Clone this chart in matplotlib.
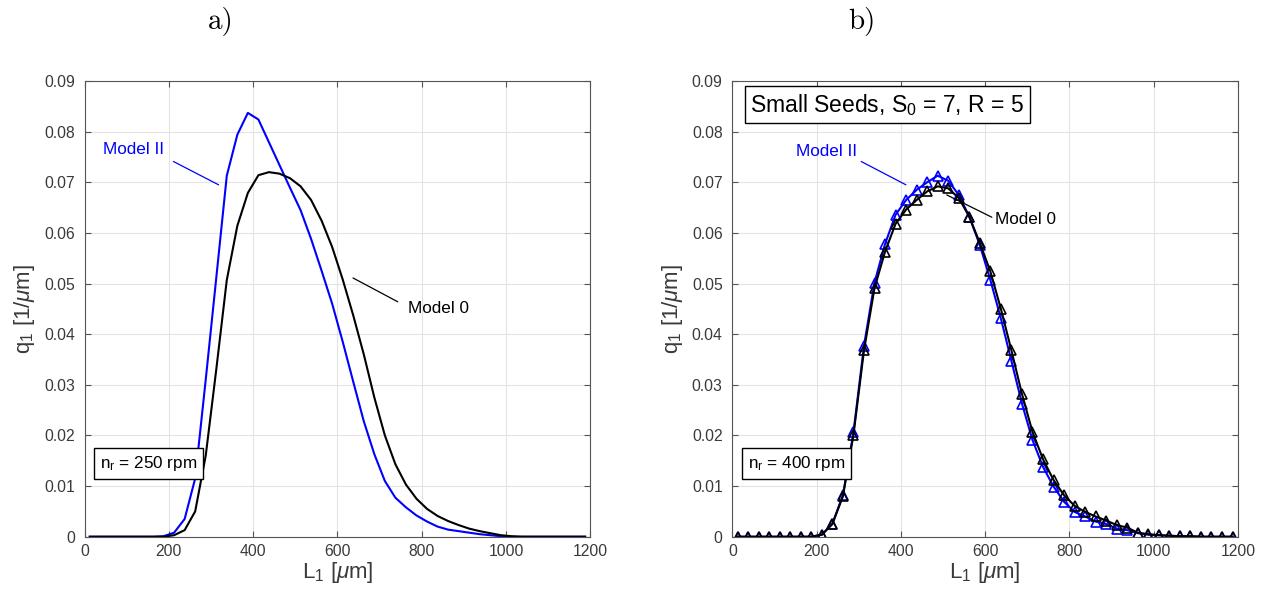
import matplotlib
matplotlib.use("Agg")
import matplotlib.pyplot as plt

plt.rcParams.update({
    "font.family": "Liberation Sans",
    "mathtext.fontset": "custom",
    "mathtext.rm": "Liberation Sans",
    "mathtext.it": "Liberation Sans:italic",
    "mathtext.bf": "Liberation Sans:bold",
})

# crystal size classes (bin centres, um)
size_classes = [12.5, 37.5, 62.5, 87.5, 112.5, 137.5, 162.5, 187.5,
                212.5, 237.5, 262.5, 287.5, 312.5, 337.5, 362.5, 387.5,
                412.5, 437.5, 462.5, 487.5, 512.5, 537.5, 562.5, 587.5,
                612.5, 637.5, 662.5, 687.5, 712.5, 737.5, 762.5, 787.5,
                812.5, 837.5, 862.5, 887.5, 912.5, 937.5, 962.5, 987.5,
                1012.5, 1037.5, 1062.5, 1087.5, 1112.5, 1137.5, 1162.5, 1187.5]

# a) n_r = 250 rpm
q1_250_model0 = [0, 0, 0, 0, 0, 0, 0, 0,
                 0.0003, 0.0013, 0.0050, 0.0160, 0.0330, 0.0507, 0.0614, 0.0679,
                 0.0714, 0.0720, 0.0717, 0.0708, 0.0692, 0.0665, 0.0624, 0.0572,
                 0.0508, 0.0437, 0.0360, 0.0275, 0.0200, 0.0143, 0.0103, 0.0075,
                 0.0055, 0.0041, 0.0031, 0.0023, 0.0016, 0.0011, 0.0007, 0.0003,
                 0.0001, 0, 0, 0, 0, 0, 0, 0]
q1_250_model2 = [0, 0, 0, 0, 0, 0, 0, 0.0001,
                 0.0008, 0.0035, 0.0115, 0.0310, 0.0511, 0.0713, 0.0794, 0.0837,
                 0.0824, 0.0779, 0.0734, 0.0689, 0.0645, 0.0588, 0.0525, 0.0460,
                 0.0385, 0.0306, 0.0228, 0.0163, 0.0110, 0.0077, 0.0058, 0.0042,
                 0.0030, 0.0020, 0.0014, 0.0011, 0.0008, 0.0005, 0.0003, 0.0001,
                 0, 0, 0, 0, 0, 0, 0, 0]

# b) n_r = 400 rpm, small seeds
q1_400_model0 = [0, 0, 0, 0, 0, 0, 0, 0,
                 0.0004, 0.0025, 0.0080, 0.0201, 0.0368, 0.0491, 0.0563, 0.0618,
                 0.0646, 0.0665, 0.0682, 0.0692, 0.0688, 0.0669, 0.0632, 0.0580,
                 0.0524, 0.0450, 0.0368, 0.0282, 0.0207, 0.0153, 0.0112, 0.0082,
                 0.0061, 0.0049, 0.0040, 0.0032, 0.0023, 0.0018, 0.0008, 0.0005,
                 0.0003, 0.0002, 0.0001, 0.0001, 0, 0, 0, 0]
q1_400_model2 = [0, 0, 0, 0, 0, 0, 0, 0,
                 0.0004, 0.0026, 0.0082, 0.0206, 0.0377, 0.0502, 0.0578, 0.0636,
                 0.0665, 0.0685, 0.0700, 0.0713, 0.0703, 0.0675, 0.0632, 0.0576,
                 0.0507, 0.0431, 0.0347, 0.0263, 0.0191, 0.0138, 0.0099, 0.0069,
                 0.0049, 0.0040, 0.0030, 0.0025, 0.0016, 0.0013, 0.0007, 0.0004,
                 0.0003, 0.0002, 0.0001, 0.0001, 0, 0, 0, 0]

x_ticks = [0, 200, 400, 600, 800, 1000, 1200]
y_ticks = [0, 0.01, 0.02, 0.03, 0.04, 0.05, 0.06, 0.07, 0.08, 0.09]
y_tick_labels = ["0", "0.01", "0.02", "0.03", "0.04", "0.05", "0.06", "0.07", "0.08", "0.09"]

BLUE = "#0000ff"


def style_axes(ax):
    ax.set_xlim(0, 1200)
    ax.set_ylim(0, 0.09)
    ax.set_xticks(x_ticks)
    ax.set_yticks(y_ticks)
    ax.set_yticklabels(y_tick_labels)
    ax.grid(True, color="#e3e3e3", lw=0.8)
    ax.set_axisbelow(True)
    ax.tick_params(direction="in", length=4, width=0.8, colors="#555555",
                   labelcolor="#3a3a3a", labelsize=11.3, top=True, right=True)
    ax.tick_params(axis="y", pad=7)
    ax.tick_params(axis="x", pad=5)
    for sp in ax.spines.values():
        sp.set_color("#555555")
        sp.set_linewidth(0.8)
    ax.set_xlabel(r"L$_1$ [$\mu$m]", fontsize=16, color="#3a3a3a", labelpad=1)
    ax.set_ylabel(r"q$_1$ [1/$\mu$m]", fontsize=16, color="#3a3a3a", labelpad=5)


def info_box(ax, x, y, s, size):
    ax.text(x, y, s, fontsize=size, ha="left", va="center", zorder=5,
            bbox=dict(boxstyle="square,pad=0.35", fc="white", ec="black", lw=1))


fig = plt.figure(figsize=(12.71, 5.90), dpi=100)
ax1 = fig.add_axes([0.0665, 0.0903, 0.398, 0.7724])
ax2 = fig.add_axes([0.5762, 0.0903, 0.3977, 0.7724])

# panel a
ax1.plot(size_classes, q1_250_model2, color=BLUE, lw=1.5)
ax1.plot(size_classes, q1_250_model0, color="black", lw=1.5)
style_axes(ax1)
ax1.text(45, 0.0764, "Model II", color=BLUE, fontsize=12.3, va="center")
ax1.annotate("", xy=(318, 0.0695), xytext=(211, 0.0741),
             arrowprops=dict(arrowstyle="-", color=BLUE, lw=0.9, shrinkA=0, shrinkB=0))
ax1.text(767, 0.0451, "Model 0", color="black", fontsize=12.3, va="center")
ax1.annotate("", xy=(637, 0.0511), xytext=(743, 0.0464),
             arrowprops=dict(arrowstyle="-", color="black", lw=0.9, shrinkA=0, shrinkB=0))
info_box(ax1, 36, 0.0145, r"n$_\mathrm{r}$ = 250 rpm", 12.3)

# panel b
ax2.plot(size_classes, q1_400_model2, color=BLUE, lw=1.5, marker="^",
         ms=6.5, mfc="none", mew=1.2)
ax2.plot(size_classes, q1_400_model0, color="black", lw=1.5, marker="^",
         ms=6.5, mfc="none", mew=1.2)
style_axes(ax2)
ax2.text(150, 0.0760, "Model II", color=BLUE, fontsize=12.3, va="center")
ax2.annotate("", xy=(412, 0.0695), xytext=(306, 0.0741),
             arrowprops=dict(arrowstyle="-", color=BLUE, lw=0.9, shrinkA=0, shrinkB=0))
ax2.text(624, 0.0626, "Model 0", color="black", fontsize=12.3, va="center")
ax2.annotate("", xy=(509, 0.0675), xytext=(616, 0.0631),
             arrowprops=dict(arrowstyle="-", color="black", lw=0.9, shrinkA=0, shrinkB=0))
info_box(ax2, 36, 0.0145, r"n$_\mathrm{r}$ = 400 rpm", 12.3)
ax2.text(368, 0.0853, r"Small Seeds, S$_0$ = 7, R = 5", fontsize=16.5,
         ha="center", va="center", zorder=5,
         bbox=dict(boxstyle="square,pad=0.25", fc="white", ec="black", lw=1))

fig.text(221 / 1271, 1 - 22 / 590, "a)", family="cmr10", fontsize=21,
         ha="center", va="center")
fig.text(862 / 1271, 1 - 22 / 590, "b)", family="cmr10", fontsize=21,
         ha="center", va="center")

fig.savefig("out.png", dpi=100)
